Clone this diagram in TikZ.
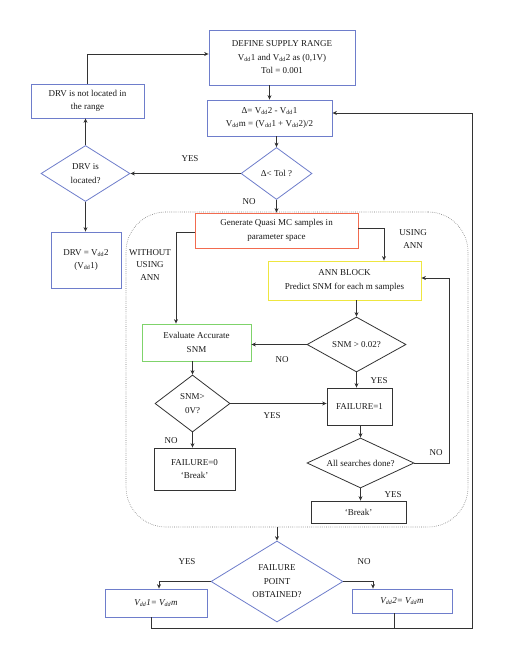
\documentclass[tikz,border=0pt]{standalone}
\usepackage{fontspec}
\setmainfont{Liberation Serif}
\usetikzlibrary{shapes.geometric,arrows.meta}
\definecolor{bl}{HTML}{6E7DCB}
\definecolor{rd}{HTML}{F26B4F}
\definecolor{yl}{HTML}{EEE640}
\definecolor{gn}{HTML}{7FD36B}
\definecolor{ln}{HTML}{333333}
\newcommand{\Vd}{V\textsubscript{dd}}
\begin{document}
\begin{tikzpicture}[x=1pt,y=-1pt,
  every node/.style={font=\fontsize{9}{13.5}\selectfont, align=center, inner sep=1pt, text=black!90},
  sz/.style 2 args={minimum width=#1pt, minimum height=#2pt},
  bbox/.style={rectangle, draw=bl, line width=0.8pt, fill=white},
  kbox/.style={rectangle, draw=ln, line width=0.8pt, fill=white},
  bdia/.style={diamond, draw=bl, line width=0.8pt, fill=white, inner sep=0pt, aspect=1.6},
  kdia/.style={diamond, draw=ln, line width=0.8pt, fill=white, inner sep=0pt, aspect=1.6},
  arr/.style={draw=ln, line width=0.9pt, -{Stealth[length=4.5pt,width=4pt]}},
  lin/.style={draw=ln, line width=0.9pt},
  lbl/.style={font=\fontsize{9}{12.5}\selectfont}]
\useasboundingbox (0,0) rectangle (506,660);
% dotted frame
\node[draw=black!55, line width=0.6pt, dash pattern=on 0.6pt off 1.3pt, rounded corners=40pt, sz={342}{315}] (frame) at (297,369.5) {};
% nodes
\node[bbox, sz={146}{55}] (define) at (282,57.5) {DEFINE SUPPLY RANGE\\\Vd1 and \Vd2 as (0,1V)\\Tol = 0.001};
\node[bbox, sz={113}{34}] (drvnot) at (87.5,101) {DRV is not located in\\the range};
\node[bbox, sz={125}{36}] (delta) at (269.5,118) {Δ= \Vd2 - \Vd1\\\Vd m = (\Vd1 + \Vd2)/2};
\node[bdia, sz={71}{52}] (tol) at (276.5,173.5) {Δ< Tol ?};
\node[bdia, sz={89}{56}, aspect=1.3] (drvloc) at (85.5,173.5) {DRV is\\located?};
\node[bbox, sz={70}{56}] (drveq) at (86,260) {DRV = \Vd2\\(\Vd1)};
\node[rectangle, draw=rd, line width=0.8pt, fill=white, sz={163}{35}] (gen) at (276.5,230.5) {Generate Quasi MC samples in\\parameter space};
\node[rectangle, draw=yl, line width=0.8pt, fill=white, sz={153}{39}] (ann) at (344.5,280.5) {ANN BLOCK\\Predict SNM for each m samples};
\node[kdia, sz={99}{55}] (snma) at (356.5,344.5) {SNM > 0.02?};
\node[rectangle, draw=gn, line width=0.8pt, fill=white, sz={109}{37}] (eval) at (196.5,342.5) {Evaluate Accurate\\SNM};
\node[kdia, sz={75}{57}, aspect=1.3] (snmb) at (192.5,403.5) {SNM>\\0V?};
\node[kbox, sz={65}{37}] (fone) at (359.5,406.5) {FAILURE=1};
\node[kbox, sz={81}{42}] (fzero) at (194.5,469) {FAILURE=0\\`Break'};
\node[kdia, sz={107}{50}, aspect=2] (all) at (360.5,463) {All searches done?};
\node[kbox, sz={95}{22}] (brk) at (358.5,512) {`Break'};
\node[bdia, sz={132}{81}] (fp) at (277,581.5) {FAILURE\\POINT\\OBTAINED?};
\node[bbox, sz={102}{28}] (vone) at (156,603) {\textit{\Vd1= \Vd m}};
\node[bbox, sz={100}{24}] (vtwo) at (402,601) {\textit{\Vd2= \Vd m}};
\coordinate (bot) at (472,628);
\coordinate (rtop) at (472,113);
\coordinate (annr) at (449,278);
% connectors
\draw[arr] (drvnot.north) |- ([yshift=3.5pt]define.west);
\draw[arr] (define.south -| delta.north) -- (delta.north);
\draw[arr] (delta.south -| tol.north) -- (tol.north);
\draw[arr] (tol.west) -- (drvloc.east);
\draw[arr] (drvloc.north) -- (drvnot.south -| drvloc.north);
\draw[arr] (drvloc.south) -- (drveq.north -| drvloc.south);
\draw[arr] (tol.south) -- (gen.north -| tol.south);
\draw[arr] ([yshift=-1.5pt]gen.west) -| ([xshift=-20.5pt]eval.north);
\draw[arr] ([yshift=2.5pt]gen.east) -| ([xshift=39.5pt]ann.north);
\draw[arr] (ann.south -| snma.north) -- (snma.north);
\draw[arr] (snma.west) -- (snma.west -| eval.east);
\draw[arr] (snma.south) -- (fone.north -| snma.south);
\draw[arr] (eval.south -| snmb.north) -- (snmb.north);
\draw[arr] (snmb.east) -- (snmb.east -| fone.west);
\draw[arr] (snmb.south) -- (fzero.north -| snmb.south);
\draw[arr] (fone.south -| all.north) -- (all.north);
\draw[arr] (all.east) -| (annr) -- (annr -| ann.east);
\draw[arr] (all.south) -- (brk.north -| all.south);
\draw[arr] (frame.south -| fp.north) -- (fp.north);
\draw[arr] (fp.west) -| ([xshift=3pt]vone.north);
\draw[arr] (fp.east) -| ([xshift=-29pt]vtwo.north);
\draw[arr] ([xshift=-5pt]vone.south) |- (bot) -- (rtop) -- (rtop -| delta.east);
\draw[lin] ([xshift=-8pt]vtwo.south) -- ([xshift=-8pt]vtwo.south |- bot);
% labels
\node[lbl] (l1) at (190,159) {YES};
\node[lbl] (l2) at (249,202) {NO};
\node[lbl] (l3) at (150,265) {WITHOUT\\USING\\ANN};
\node[lbl] (l4) at (413,239) {USING\\ANN};
\node[lbl] (l5) at (282,360) {NO};
\node[lbl] (l6) at (379,381) {YES};
\node[lbl] (l7) at (272,416) {YES};
\node[lbl] (l8) at (171,441) {NO};
\node[lbl] (l9) at (436,453) {NO};
\node[lbl] (l10) at (393,495) {YES};
\node[lbl] (l11) at (187,562) {YES};
\node[lbl] (l12) at (364,562) {NO};
\end{tikzpicture}
\end{document}
